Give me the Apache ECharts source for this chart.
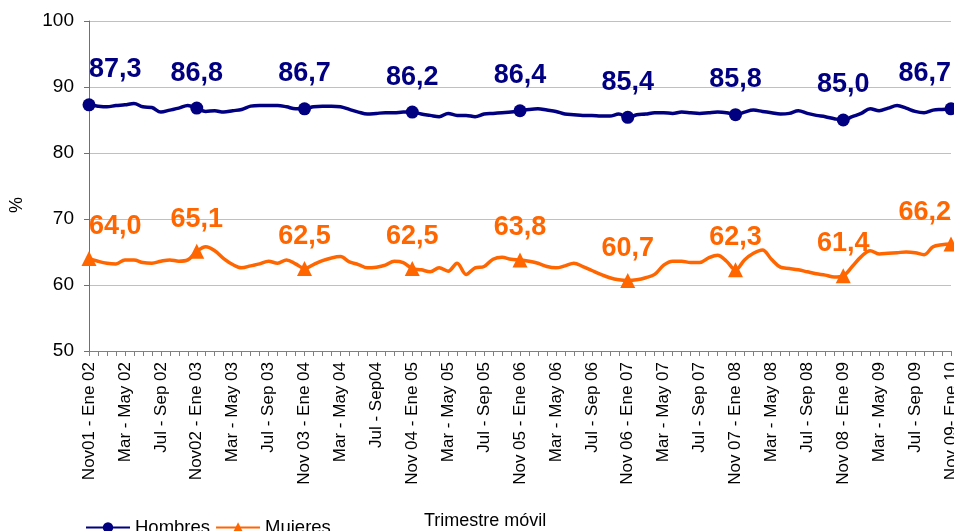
<!DOCTYPE html>
<html>
<head>
<meta charset="utf-8">
<script src="https://cdn.jsdelivr.net/npm/echarts@6/dist/echarts.min.js"></script>
<style>html,body{margin:0;padding:0;background:#fff}#c{width:954px;height:531px}</style>
</head>
<body>
<div id="c"></div>
<script>
var categories = [
  "Nov01 - Ene 02","Dic - Feb 02","Ene - Mar 02","Feb - Abr 02","Mar - May 02","Abr - Jun 02","May - Jul 02","Jun - Ago 02","Jul - Sep 02","Ago - Oct 02","Sep - Nov 02","Oct - Dic 02",
  "Nov02 - Ene 03","Dic - Feb 03","Ene - Mar 03","Feb - Abr 03","Mar - May 03","Abr - Jun 03","May - Jul 03","Jun - Ago 03","Jul - Sep 03","Ago - Oct 03","Sep - Nov 03","Oct - Dic 03",
  "Nov 03 - Ene 04","Dic - Feb 04","Ene - Mar 04","Feb - Abr 04","Mar - May 04","Abr - Jun 04","May - Jul 04","Jun - Ago 04","Jul - Sep04","Ago - Oct 04","Sep - Nov 04","Oct - Dic 04",
  "Nov 04 - Ene 05","Dic - Feb 05","Ene - Mar 05","Feb - Abr 05","Mar - May 05","Abr - Jun 05","May - Jul 05","Jun - Ago 05","Jul - Sep 05","Ago - Oct 05","Sep - Nov 05","Oct - Dic 05",
  "Nov 05 - Ene 06","Dic - Feb 06","Ene - Mar 06","Feb - Abr 06","Mar - May 06","Abr - Jun 06","May - Jul 06","Jun - Ago 06","Jul - Sep 06","Ago - Oct 06","Sep - Nov 06","Oct - Dic 06",
  "Nov 06 - Ene 07","Dic - Feb 07","Ene - Mar 07","Feb - Abr 07","Mar - May 07","Abr - Jun 07","May - Jul 07","Jun - Ago 07","Jul - Sep 07","Ago - Oct 07","Sep - Nov 07","Oct - Dic 07",
  "Nov 07 - Ene 08","Dic - Feb 08","Ene - Mar 08","Feb - Abr 08","Mar - May 08","Abr - Jun 08","May - Jul 08","Jun - Ago 08","Jul - Sep 08","Ago - Oct 08","Sep - Nov 08","Oct - Dic 08",
  "Nov 08 - Ene 09","Dic - Feb 09","Ene - Mar 09","Feb - Abr 09","Mar - May 09","Abr - Jun 09","May - Jul 09","Jun - Ago 09","Jul - Sep 09","Ago - Oct 09","Sep - Nov 09","Oct - Dic 09",
  "Nov 09- Ene 10"
];

var hombres = [
  87.3,87.1,87.0,87.2,87.3,87.5,87.0,86.9,86.2,86.5,86.8,87.2,
  86.8,86.3,86.4,86.2,86.4,86.6,87.1,87.2,87.2,87.2,87.0,86.7,
  86.7,87.0,87.1,87.1,87.0,86.6,86.2,85.9,86.0,86.1,86.1,86.2,
  86.2,85.9,85.7,85.5,86.0,85.7,85.7,85.5,85.9,86.0,86.1,86.2,
  86.4,86.6,86.7,86.5,86.3,85.9,85.8,85.7,85.7,85.6,85.6,85.9,
  85.4,85.8,85.9,86.1,86.1,86.0,86.2,86.1,86.0,86.1,86.2,86.1,
  85.8,86.2,86.5,86.3,86.1,85.9,86.0,86.4,86.0,85.7,85.5,85.2,
  85.0,85.5,86.0,86.7,86.4,86.8,87.2,86.8,86.3,86.1,86.5,86.6,
  86.7
];

var mujeres = [
  64.0,63.6,63.3,63.2,63.8,63.8,63.4,63.3,63.6,63.8,63.6,63.8,
  65.1,65.8,65.2,64.0,63.1,62.6,62.9,63.2,63.6,63.3,63.8,63.2,
  62.5,63.1,63.7,64.1,64.3,63.5,63.1,62.6,62.7,63.0,63.6,63.4,
  62.5,62.3,62.0,62.6,62.1,63.3,61.6,62.6,62.8,63.9,64.2,63.9,
  63.8,63.6,63.3,62.8,62.6,62.9,63.3,62.8,62.2,61.6,61.1,60.8,
  60.7,60.8,61.1,61.6,63.0,63.6,63.6,63.4,63.4,64.1,64.5,63.6,
  62.3,63.8,64.8,65.3,63.9,62.7,62.5,62.3,62.0,61.7,61.5,61.2,
  61.4,62.8,64.3,65.2,64.7,64.8,64.9,65.0,64.9,64.6,65.8,66.1,
  66.2
];

var yTicks = { min: 50, max: 100, step: 10 };
var seriesNames = ["Hombres", "Mujeres"];
var colors = ["#000080", "#FF6600"];

function fmt(v) { return v.toFixed(1).replace('.', ','); }

function buildData(arr, isFirst) {
  var last = arr.length - 1;
  return arr.map(function (v, i) {
    var key = i % 12 === 0;
    return {
      value: v,
      symbolSize: key ? (isFirst ? 13 : 15) : 0,
      label: {
        show: key,
        align: i === 0 ? 'left' : (i === last ? 'right' : 'center')
      }
    };
  });
}

var chart = echarts.init(document.getElementById('c'), null, { renderer: 'canvas' });
var font = 'Arial, "Liberation Sans", sans-serif';

chart.setOption({
  animation: false,
  backgroundColor: '#ffffff',
  textStyle: { fontFamily: font },
  grid: { left: 89, right: 3, top: 21, bottom: 180, containLabel: false, outerBoundsMode: 'none' },
  title: {
    text: 'Trimestre móvil',
    left: 419, top: 507,
    textStyle: { fontFamily: font, fontSize: 18, fontWeight: 'normal', color: '#000' }
  },
  legend: {
    left: 80, top: 513,
    itemWidth: 44, itemHeight: 13, itemGap: 5,
    textStyle: { fontFamily: font, fontSize: 18.5, color: '#000' },
    data: seriesNames
  },
  xAxis: {
    type: 'category',
    data: categories,
    boundaryGap: false,
    axisLine: { lineStyle: { color: '#808080', width: 1 } },
    axisTick: { show: true, interval: 0, length: 5, lineStyle: { color: '#808080' } },
    axisLabel: {
      interval: 3, rotate: 90, margin: 11,
      fontFamily: font, fontSize: 17, color: '#000'
    },
    splitLine: { show: false }
  },
  yAxis: {
    type: 'value',
    min: yTicks.min, max: yTicks.max, interval: yTicks.step,
    name: '%', nameLocation: 'middle', nameGap: 63, nameRotate: 90,
    nameTextStyle: { fontFamily: font, fontSize: 18, color: '#000', padding: [0, 38, 0, 0] },
    axisLine: { show: true, lineStyle: { color: '#707070', width: 1 } },
    axisTick: { show: true, length: 5, lineStyle: { color: '#707070' } },
    axisLabel: { fontFamily: font, fontSize: 19, color: '#000', margin: 15 },
    splitLine: { show: true, lineStyle: { color: '#c0c0c0', width: 1 } }
  },
  series: [
    {
      name: seriesNames[0], type: 'line',
      data: buildData(hombres, true),
      smooth: 0.35, symbol: 'circle', showSymbol: true, showAllSymbol: true,
      itemStyle: { color: colors[0] },
      lineStyle: { color: colors[0], width: 3.5 },
      label: {
        position: 'top', distance: 15,
        fontFamily: font, fontSize: 27, fontWeight: 'bold', color: colors[0],
        formatter: function (p) { return fmt(p.value); }
      },
      emphasis: { disabled: true },
      z: 3
    },
    {
      name: seriesNames[1], type: 'line',
      data: buildData(mujeres, false),
      smooth: 0.35, symbol: 'triangle', showSymbol: true, showAllSymbol: true,
      itemStyle: { color: colors[1] },
      lineStyle: { color: colors[1], width: 3.5 },
      label: {
        position: 'top', distance: 11,
        fontFamily: font, fontSize: 27, fontWeight: 'bold', color: colors[1],
        formatter: function (p) { return fmt(p.value); }
      },
      emphasis: { disabled: true },
      z: 3
    }
  ]
});
</script>
</body>
</html>
